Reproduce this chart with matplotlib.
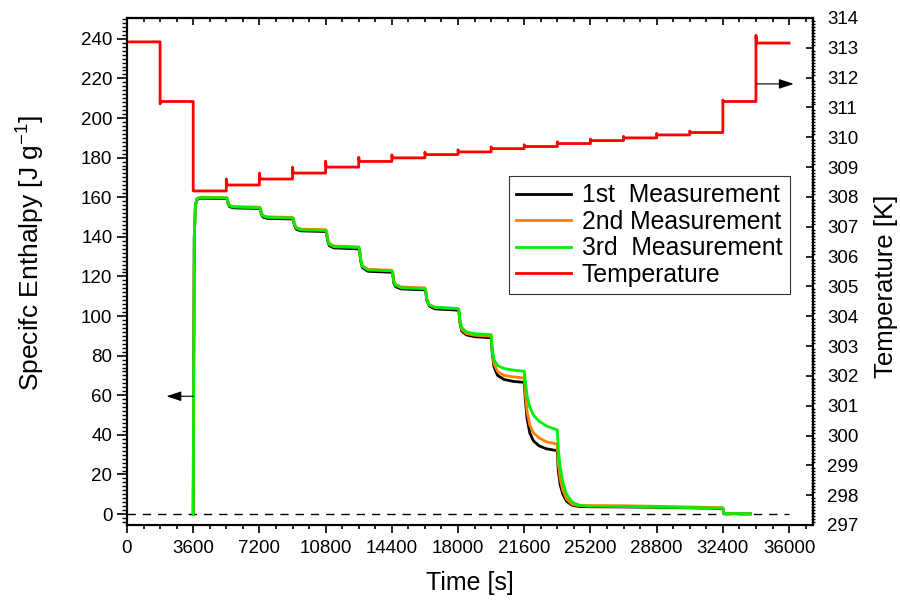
import matplotlib
matplotlib.use("Agg")
import matplotlib.pyplot as plt
from matplotlib.ticker import MultipleLocator

plt.rcParams['font.family'] = ['Liberation Sans', 'DejaVu Sans']
plt.rcParams['mathtext.default'] = 'regular'

# --- enthalpy curves (time [s], specific enthalpy [J/g]) ---
t_h = [3600, 3620, 3660, 3720, 3800, 4000, 5400,
       5450, 5500, 5580, 5800, 7200,
       7250, 7300, 7400, 7650, 9000,
       9050, 9100, 9200, 9450, 10800,
       10850, 10900, 11000, 11250, 12600,
       12650, 12700, 12800, 13100, 14400,
       14450, 14500, 14600, 14900, 16200,
       16250, 16300, 16450, 16750, 18000,
       18050, 18100, 18200, 18450, 18900, 19800,
       19850, 19950, 20150, 20500, 21000, 21600,
       21650, 21750, 21900, 22100, 22400, 22800, 23400,
       23450, 23550, 23700, 23900, 24200, 24600, 25000,
       27000, 29000, 31000, 32400,
       32450, 33900]

h_run1 = [0, 60, 140, 155.5, 158.8, 159.5, 159.3,
          159.0, 156.7, 155.2, 154.6, 154.3,
          154.0, 151.6, 149.9, 149.3, 149.0,
          148.6, 146.0, 143.9, 143.0, 142.7,
          142.0, 138.5, 135.6, 134.4, 133.9,
          132.9, 128.0, 124.5, 122.6, 122.1,
          121.2, 117.0, 114.9, 113.7, 113.2,
          112.0, 108.0, 105.0, 103.6, 103.0,
          102.0, 97.0, 92.5, 90.5, 89.6, 89.0,
          82.5, 74.5, 70.0, 68.0, 67.0, 66.5,
          59.0, 48.5, 41.0, 37.0, 34.5, 33.0, 32.0,
          22.0, 15.0, 10.0, 6.5, 4.5, 3.8, 3.7,
          3.6, 3.4, 3.1, 2.9,
          0.2, 0.1]

h_run2 = [0, 60, 140, 156, 159.4, 160.0, 159.8,
          159.5, 157.3, 155.9, 155.3, 155.0,
          154.7, 152.4, 150.7, 150.1, 149.8,
          149.4, 146.8, 144.8, 143.9, 143.6,
          142.9, 139.5, 136.6, 135.4, 134.9,
          133.9, 129.0, 125.5, 123.6, 123.1,
          122.2, 118.0, 115.9, 114.7, 114.2,
          112.8, 108.8, 105.6, 104.3, 103.8,
          102.6, 97.5, 93.2, 91.2, 90.3, 89.8,
          83.0, 76.0, 72.0, 70.0, 69.3, 68.7,
          62.0, 52.0, 45.0, 41.0, 38.5, 36.5, 35.3,
          26.0, 18.0, 12.0, 7.5, 5.0, 4.2, 4.3,
          4.2, 3.9, 3.5, 3.2,
          0.3, 0.2]

h_run3 = [0, 60, 140, 155.8, 159.1, 159.8, 159.6,
          159.3, 157.0, 155.6, 155.0, 154.7,
          154.4, 152.0, 150.4, 149.8, 149.5,
          149.1, 146.5, 144.4, 143.5, 143.2,
          142.5, 139.0, 136.2, 135.0, 134.6,
          133.6, 128.6, 125.1, 123.3, 122.8,
          121.9, 117.6, 115.5, 114.3, 113.8,
          112.6, 108.6, 105.6, 104.4, 103.8,
          102.8, 98.0, 94.3, 92.0, 91.1, 90.6,
          84.0, 78.0, 75.0, 73.5, 72.7, 72.1,
          68.0, 60.0, 54.0, 50.0, 47.0, 44.5, 42.5,
          33.0, 24.0, 16.0, 10.0, 6.0, 4.5, 4.0,
          3.8, 3.5, 3.2, 3.0,
          0.3, 0.2]

# --- temperature program: level changes every 1800 s, with small overshoot ---
step_t = [0, 1800, 3600, 5400, 7200, 9000, 10800, 12600, 14400, 16200,
          18000, 19800, 21600, 23400, 25200, 27000, 28800, 30600, 32400, 34200]
T_level = [313.2, 311.2, 308.2, 308.4, 308.6, 308.8, 309.0, 309.19, 309.31, 309.42,
           309.51, 309.62, 309.69, 309.79, 309.89, 309.98, 310.08, 310.16, 311.2, 313.16]
T_peak = [313.2, 311.12, 308.2, 308.6, 308.8, 309.0, 309.2, 309.33, 309.41, 309.5,
          309.58, 309.68, 309.75, 309.85, 309.94, 310.03, 310.13, 310.21, 311.25, 313.42]
t_end = 36000

t_T, T = [step_t[0]], [T_level[0]]
for i in range(1, len(step_t)):
    ts = step_t[i]
    t_T += [ts, ts, ts + 40]
    T += [T_level[i - 1], T_peak[i], T_level[i]]
t_T.append(t_end)
T.append(T_level[-1])

fig = plt.figure(figsize=(9, 6.06), dpi=100)
ax = fig.add_axes([0.1411, 0.1337, 0.7622, 0.8366])
ax2 = ax.twinx()

ax.plot([0, 36000], [0, 0], color='black', lw=1, ls=(0, (6, 5)))
l1, = ax.plot(t_h, h_run1, color='black', lw=2, label='1st  Measurement')
l2, = ax.plot(t_h, h_run2, color='#ff7f00', lw=2, label='2nd Measurement')
l3, = ax.plot(t_h, h_run3, color='#00ee00', lw=2, label='3rd  Measurement')
l4, = ax2.plot(t_T, T, color='red', lw=2, label='Temperature')

# arrows pointing to the matching axes
ax.annotate('', xy=(2150, 59.5), xytext=(3600, 59.5),
            arrowprops=dict(arrowstyle='-|>,head_length=0.9,head_width=0.3',
                            color='black', lw=0.8, shrinkA=0, shrinkB=0))
ax2.annotate('', xy=(36250, 311.79), xytext=(34200, 311.79),
             arrowprops=dict(arrowstyle='-|>,head_length=0.9,head_width=0.3',
                             color='black', lw=0.8, shrinkA=0, shrinkB=0))

ax.set_xlim(0, 37300)
ax.set_ylim(-5.5, 250.5)
ax2.set_ylim(297, 314)

ax.xaxis.set_major_locator(MultipleLocator(3600))
ax.xaxis.set_minor_locator(MultipleLocator(900))
ax.yaxis.set_major_locator(MultipleLocator(20))
ax.yaxis.set_minor_locator(MultipleLocator(2))
ax2.yaxis.set_major_locator(MultipleLocator(1))
ax2.yaxis.set_minor_locator(MultipleLocator(0.1))

ax.tick_params(axis='x', which='major', direction='out', length=6, width=1.2,
               labelsize=13.5, pad=5)
ax.tick_params(axis='x', which='minor', direction='out', length=3, width=1.2)
ax.tick_params(axis='y', which='major', direction='out', length=7, width=1.2, labelsize=13.5)
ax.tick_params(axis='y', which='minor', direction='out', length=3.5, width=1)
ax2.tick_params(axis='y', which='major', direction='in', length=5, width=1.2,
                labelsize=13.5, pad=10)
ax2.tick_params(axis='y', which='minor', direction='inout', length=3, width=1)

# top axis: same ticks, pointing inwards, no labels
top = ax.secondary_xaxis('top')
top.xaxis.set_major_locator(MultipleLocator(3600))
top.xaxis.set_minor_locator(MultipleLocator(900))
top.tick_params(which='major', direction='in', length=5, width=1.2, labeltop=False)
top.tick_params(which='minor', direction='in', length=3, width=1.2)
top.spines['top'].set_linewidth(1.5)

for a in (ax, ax2):
    for s in a.spines.values():
        s.set_linewidth(1.5)

ax.set_xlabel('Time [s]', fontsize=18, labelpad=10)
ax.set_ylabel('Specifc Enthalpy [J g$^{-1}$]', fontsize=19)
ax2.set_ylabel('Temperature [K]', fontsize=18.5)
ax.yaxis.set_label_coords(-80 / 686, 0.536)
ax2.yaxis.set_label_coords(1 + 61 / 686, 0.471)

leg = ax2.legend(handles=[l1, l2, l3, l4], loc='upper left',
                 bbox_to_anchor=(509 / 900, 1 - 176 / 606), bbox_transform=fig.transFigure,
                 fontsize=17.8, frameon=True, fancybox=False, edgecolor='black',
                 handlelength=2.2, handletextpad=0.45, borderpad=0.3, labelspacing=0.1,
                 borderaxespad=0)
leg.get_frame().set_linewidth(0.8)

fig.savefig('out.png', dpi=100)
